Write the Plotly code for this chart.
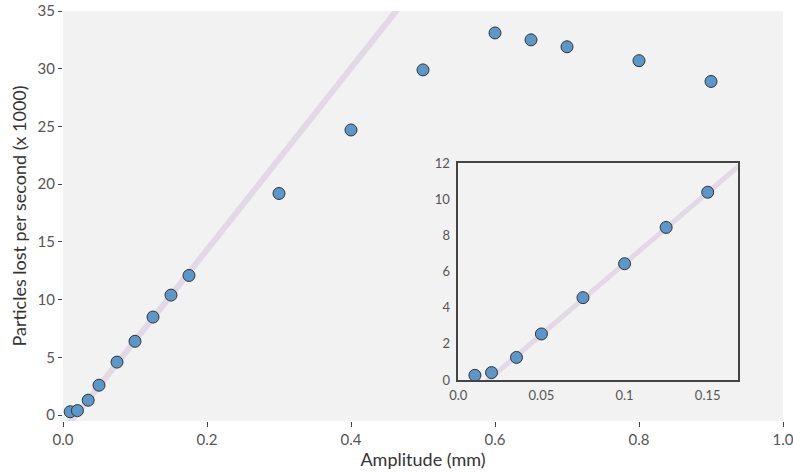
import plotly.graph_objects as go

amplitude = [0.01, 0.02, 0.035, 0.05, 0.075, 0.1, 0.125, 0.15, 0.175,
             0.3, 0.4, 0.5, 0.6, 0.65, 0.7, 0.8, 0.9]
particles_lost = [0.3, 0.4, 1.3, 2.6, 4.6, 6.4, 8.5, 10.4, 12.1,
                  19.2, 24.7, 29.9, 33.1, 32.5, 31.9, 30.7, 28.9]

inset_amplitude = [0.01, 0.02, 0.035, 0.05, 0.075, 0.1, 0.125, 0.15]
inset_particles = [0.26, 0.41, 1.25, 2.55, 4.56, 6.44, 8.45, 10.4]

fit_slope = 78.7
fit_intercept = -1.42
fit_x = [0.0, 0.5]
fit_y = [fit_slope * x + fit_intercept for x in fit_x]

x_ticks = [0, 0.2, 0.4, 0.6, 0.8, 1.0]
x_ticktext = ["0.0", "0.2", "0.4", "0.6", "0.8", "1.0"]
y_ticks = [0, 5, 10, 15, 20, 25, 30, 35]
inset_x_ticks = [0, 0.05, 0.1, 0.15]
inset_x_ticktext = ["0.0", "0.05", "0.1", "0.15"]
inset_y_ticks = [0, 2, 4, 6, 8, 10, 12]

FONT = "Lato"
line_color = "rgba(221,208,226,0.75)"
marker = dict(size=12, color="#5b97c9", line=dict(color="#333333", width=1))

fig = go.Figure()
fig.add_trace(go.Scatter(x=fit_x, y=fit_y, mode="lines",
                         line=dict(color=line_color, width=6),
                         hoverinfo="skip", showlegend=False))
fig.add_trace(go.Scatter(x=amplitude, y=particles_lost, mode="markers",
                         marker=marker, showlegend=False))
fig.add_trace(go.Scatter(x=fit_x, y=fit_y, mode="lines", xaxis="x2", yaxis="y2",
                         line=dict(color=line_color, width=5),
                         hoverinfo="skip", showlegend=False))
fig.add_trace(go.Scatter(x=inset_amplitude, y=inset_particles, mode="markers",
                         xaxis="x2", yaxis="y2",
                         marker=dict(size=12, color="#5b97c9", line=dict(color="#333333", width=1)),
                         showlegend=False))

fig.update_layout(
    width=793, height=472,
    margin=dict(l=63, r=10, t=11, b=51),
    paper_bgcolor="white",
    plot_bgcolor="#f2f2f2",
    font=dict(family=FONT, color="#444444", size=14),
    xaxis=dict(range=[0, 1], tickvals=x_ticks, ticktext=x_ticktext, automargin=False,
               showgrid=False, zeroline=False, showline=False, ticklabeloverflow="allow",
               ticks="outside", ticklen=5, tickcolor="#444444",
               tickfont=dict(size=15, color="#555555"),
               title=dict(text="Amplitude (mm)", font=dict(size=18, color="#333333"), standoff=4)),
    yaxis=dict(range=[-0.5, 35], tickvals=y_ticks, automargin=False,
               showgrid=False, zeroline=False, showline=False, ticklabeloverflow="allow",
               ticks="outside", ticklen=4, tickcolor="#444444",
               tickfont=dict(size=15, color="#555555"),
               title=dict(text="Particles lost per second (x 1000)", font=dict(size=18, color="#333333"), standoff=6)),
    xaxis2=dict(domain=[0.549, 0.937], anchor="y2", range=[0, 0.168], automargin=False,
                tickvals=inset_x_ticks, ticktext=inset_x_ticktext,
                showgrid=False, zeroline=False, showline=True, mirror=True,
                linecolor="#444444", linewidth=1.5, ticks="", ticklabelstandoff=3,
                tickfont=dict(size=13, color="#555555")),
    yaxis2=dict(domain=[0.1, 0.6285], anchor="x2", range=[0, 12], automargin=False,
                tickvals=inset_y_ticks,
                showgrid=False, zeroline=False, showline=True, mirror=True,
                linecolor="#444444", linewidth=1.5, ticks="", ticklabelstandoff=4,
                tickfont=dict(size=13, color="#555555")),
    shapes=[dict(type="rect", xref="x2 domain", yref="y2 domain",
                 x0=0, x1=1, y0=0, y1=1, fillcolor="white",
                 line=dict(width=0), layer="below")],
)

fig.write_html("out.html", config={"displayModeBar": False},
               post_script="document.body.style.margin='0';document.body.style.overflow='hidden';")
